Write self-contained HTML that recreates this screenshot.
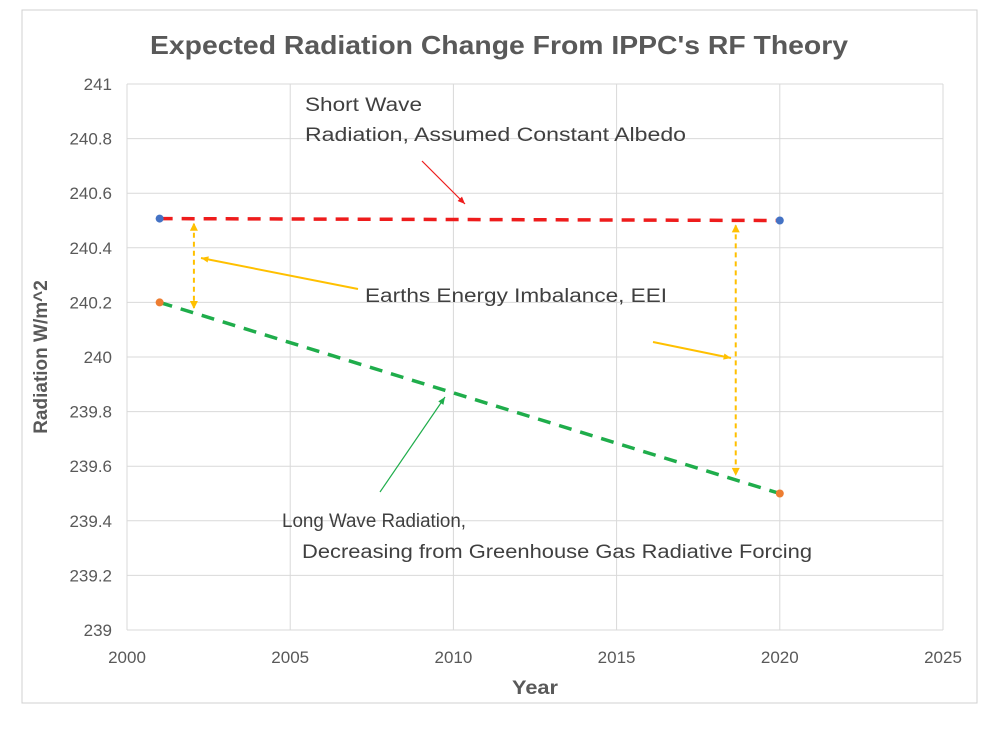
<!DOCTYPE html>
<html><head><meta charset="utf-8"><style>
body{margin:0;background:#fff;width:1001px;height:736px;overflow:hidden}
svg{font-family:"Liberation Sans",sans-serif}
</style></head><body>
<svg id="c" width="1001" height="736">
<rect x="22" y="10" width="955" height="693" fill="#fff" stroke="#d0d0d0"/>
<text x="150" y="54" textLength="698" lengthAdjust="spacingAndGlyphs" font-size="26" font-weight="bold" fill="#595959">Expected Radiation Change From IPPC's RF Theory</text>
<g id="grid"></g><g id="ticks"></g><g id="marks"></g>
<text x="512" y="694" textLength="46" lengthAdjust="spacingAndGlyphs" font-size="19" font-weight="bold" fill="#595959">Year</text>
<text transform="translate(47,357) rotate(-90)" text-anchor="middle" font-size="19" font-weight="bold" fill="#595959">Radiation W/m^2</text>
<g font-size="19" fill="#404040" lengthAdjust="spacingAndGlyphs">
<text x="305" y="111" textLength="117" lengthAdjust="spacingAndGlyphs">Short Wave</text>
<text x="305" y="141" textLength="381" lengthAdjust="spacingAndGlyphs">Radiation, Assumed Constant Albedo</text>
<text x="365" y="302" textLength="302" lengthAdjust="spacingAndGlyphs">Earths Energy Imbalance, EEI</text>
<text x="282" y="527" textLength="184" lengthAdjust="spacingAndGlyphs">Long Wave Radiation,</text>
<text x="302" y="558" textLength="510" lengthAdjust="spacingAndGlyphs">Decreasing from Greenhouse Gas Radiative Forcing</text>
</g>
</svg>
<script>
const xTicks=[2000,2005,2010,2015,2020,2025];
const yTicks=[239,239.2,239.4,239.6,239.8,240,240.2,240.4,240.6,240.8,241];
const years=[2001,2020];
const shortWave=[240.507,240.5];
const longWave=[240.2,239.5];
const eeiYears=[2002.05,2018.65];
const X=v=>127+(v-2000)*(943-127)/25;
const Y=v=>630-(v-239)*(630-84)/2;
const NS='http://www.w3.org/2000/svg';
function mk(p,t,a){const e=document.createElementNS(NS,t);for(const k in a)e.setAttribute(k,a[k]);document.getElementById(p).appendChild(e);return e;}
xTicks.forEach(t=>{
 const l=mk('grid','line',{x1:X(t),x2:X(t),y1:84,y2:630,stroke:'#d9d9d9'});
 
 
 const tx=mk('ticks','text',{x:X(t),y:663,'text-anchor':'middle','font-size':17,fill:'#595959'});tx.textContent=t;
 
 
});
yTicks.forEach(t=>{
 const l=mk('grid','line',{x1:127,x2:943,y1:Y(t),y2:Y(t),stroke:'#d9d9d9'});
 
 
 const tx=mk('ticks','text',{x:112,y:Y(t)+6,'text-anchor':'end','font-size':17,fill:'#595959'});tx.textContent=Math.round(t*10)/10;
 
 
});
function lerp(arr,y){return arr[0]+(arr[1]-arr[0])*(y-years[0])/(years[1]-years[0]);}
const sw=mk('marks','line',{x1:X(years[0]),y1:Y(shortWave[0]),x2:X(years[1]),y2:Y(shortWave[1]),stroke:'#ee1c1c','stroke-width':3.5,'stroke-dasharray':'13 9'});


const lw=mk('marks','line',{x1:X(years[0]),y1:Y(longWave[0]),x2:X(years[1]),y2:Y(longWave[1]),stroke:'#1fad4b','stroke-width':3.5,'stroke-dasharray':'13 9'});


eeiYears.forEach(y=>{
 const x=X(y),a=Y(lerp(shortWave,y))+5,b=Y(lerp(longWave,y))-5;
 const l=mk('marks','line',{x1:x,x2:x,y1:a,y2:b,stroke:'#ffc000','stroke-width':2,'stroke-dasharray':'5 4'});
 
 
 mk('marks','polygon',{points:`${x-4},${a+7} ${x+4},${a+7} ${x},${a-1}`,fill:'#ffc000'});
 mk('marks','polygon',{points:`${x-4},${b-7} ${x+4},${b-7} ${x},${b+1}`,fill:'#ffc000'});
});
years.forEach((y,i)=>{
 const d1=mk('marks','circle',{cx:X(y),cy:Y(shortWave[i]),r:4,fill:'#4472c4'});
 
 
 const d2=mk('marks','circle',{cx:X(y),cy:Y(longWave[i]),r:4,fill:'#ed7d31'});
 
 
});
function ptr(x1,y1,x2,y2,c,w,n){const l=mk('marks','line',{x1,y1,x2,y2,stroke:c,'stroke-width':w});
 
 
 const ang=Math.atan2(y2-y1,x2-x1),s=8;
 mk('marks','polygon',{points:`${x2},${y2} ${x2-s*Math.cos(ang-0.4)},${y2-s*Math.sin(ang-0.4)} ${x2-s*Math.cos(ang+0.4)},${y2-s*Math.sin(ang+0.4)}`,fill:c});}
ptr(422,161,465,204,'#ee1c1c',1.2,'sw-pointer');
ptr(358,289,201,258,'#ffc000',2,'eei-pointer-1');
ptr(653,342,731,358,'#ffc000',2,'eei-pointer-2');
ptr(380,492,445,397,'#1fad4b',1.2,'lw-pointer');
</script>
</body></html>
